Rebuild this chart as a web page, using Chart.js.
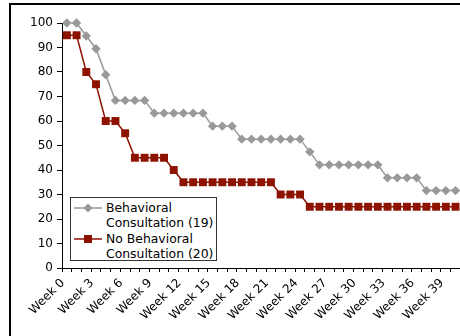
<!DOCTYPE html>
<html>
<head>
<meta charset="utf-8">
<script src="https://cdn.jsdelivr.net/npm/chart.js@4/dist/chart.umd.min.js"></script>
<style>
  html, body { margin: 0; padding: 0; width: 460px; height: 336px; overflow: hidden; background: #fff; }
  #wrap { position: relative; width: 460px; height: 336px; overflow: hidden; }
  #c { position: absolute; left: 0; top: 0; }
  #frame { position: absolute; left: 9px; top: 3px; width: 600px; height: 400px;
           border-left: 2px solid #000; border-top: 2px solid #000; pointer-events: none; }
  #legend { position: absolute; left: 70px; top: 197px; width: 145px; height: 62px;
            border: 1.5px solid #333; background: #fff;
            font-family: "DejaVu Sans", Verdana, sans-serif; font-size: 12.4px; color: #000; }
  .item { position: absolute; left: 0; width: 145px; }
  .item svg { position: absolute; left: 3px; }
  .item .txt { position: absolute; left: 35px; line-height: 15px; white-space: nowrap; }
</style>
</head>
<body>
<div id="wrap">
  <canvas id="c" width="466" height="336"></canvas>
  <div id="frame"></div>
  <div id="legend"></div>
</div>
<script>
const weeks = ['Week 0','Week 1','Week 2','Week 3','Week 4','Week 5','Week 6','Week 7','Week 8','Week 9',
  'Week 10','Week 11','Week 12','Week 13','Week 14','Week 15','Week 16','Week 17','Week 18','Week 19',
  'Week 20','Week 21','Week 22','Week 23','Week 24','Week 25','Week 26','Week 27','Week 28','Week 29',
  'Week 30','Week 31','Week 32','Week 33','Week 34','Week 35','Week 36','Week 37','Week 38','Week 39','Week 40'];

const behavioral = [100,100,94.7,89.5,78.9,68.4,68.4,68.4,68.4,63.2,63.2,63.2,63.2,63.2,63.2,
  57.9,57.9,57.9,52.6,52.6,52.6,52.6,52.6,52.6,52.6,47.4,42.1,42.1,42.1,42.1,42.1,42.1,42.1,
  36.8,36.8,36.8,36.8,31.6,31.6,31.6,31.6];

const noBehavioral = [95,95,80,75,60,60,55,45,45,45,45,40,35,35,35,35,35,35,35,35,35,35,
  30,30,30,25,25,25,25,25,25,25,25,25,25,25,25,25,25,25,25];

const seriesNames = [['Behavioral', 'Consultation (19)'], ['No Behavioral', 'Consultation (20)']];
const yMin = 0, yMax = 100, yStep = 10;

const grayC = '#999999';
const redC = '#8e1200';
const font = { family: 'DejaVu Sans', size: 12 };

new Chart(document.getElementById('c'), {
  type: 'line',
  data: {
    labels: weeks,
    datasets: [
      { label: seriesNames[0].join(' '), data: behavioral, borderColor: grayC, backgroundColor: grayC,
        borderWidth: 1.5, pointStyle: 'rectRot', pointRadius: 4.7, pointBorderWidth: 0,
        pointBackgroundColor: grayC, tension: 0, clip: false },
      { label: seriesNames[1].join(' '), data: noBehavioral, borderColor: redC, backgroundColor: redC,
        borderWidth: 1.5, pointStyle: 'rect', pointRadius: 5.6, pointBorderWidth: 0,
        pointBackgroundColor: redC, tension: 0, clip: false }
    ]
  },
  options: {
    responsive: false, animation: false, devicePixelRatio: 1,
    layout: { padding: { top: 23, right: 0, left: 0, bottom: 0 } },
    plugins: { legend: { display: false }, tooltip: { enabled: false } },
    scales: {
      x: {
        type: 'category', offset: true,
        grid: { display: true, drawOnChartArea: false, drawTicks: true, tickLength: 4, color: '#000', offset: true },
        border: { color: '#000', width: 1 },
        ticks: { autoSkip: false, minRotation: 45, maxRotation: 45, font: font, color: '#000', padding: 4,
                 labelOffset: -4,
                 callback: (v, i) => (i % 3 === 0 ? weeks[i] : '') },
        afterFit: s => { s.height = 68; s.paddingRight = 0; s.paddingLeft = 0; }
      },
      y: {
        min: yMin, max: yMax,
        grid: { display: true, drawOnChartArea: false, drawTicks: true, tickLength: 5, color: '#000' },
        border: { color: '#000', width: 1 },
        ticks: { stepSize: yStep, font: font, color: '#000', padding: 4 },
        afterFit: s => { s.width = 62; }
      }
    }
  }
});

// HTML legend
const legend = document.getElementById('legend');
const items = [
  { top: 2, color: grayC, marker: 'diamond', lines: seriesNames[0] },
  { top: 33, color: redC, marker: 'square', lines: seriesNames[1] }
];
items.forEach(it => {
  const d = document.createElement('div');
  d.className = 'item';
  d.style.top = it.top + 'px';
  const mk = it.marker === 'diamond'
    ? `<polygon points="14,3.5 18.5,8 14,12.5 9.5,8" fill="${it.color}"/>`
    : `<rect x="10" y="4" width="8" height="8" fill="${it.color}"/>`;
  d.innerHTML = `<svg width="30" height="16" style="top:0px"><line x1="0" y1="8" x2="28" y2="8" stroke="${it.color}" stroke-width="1.5"/>${mk}</svg>` +
    `<div class="txt" style="top:0px">${it.lines[0]}<br>${it.lines[1]}</div>`;
  legend.appendChild(d);
});
</script>
</body>
</html>
